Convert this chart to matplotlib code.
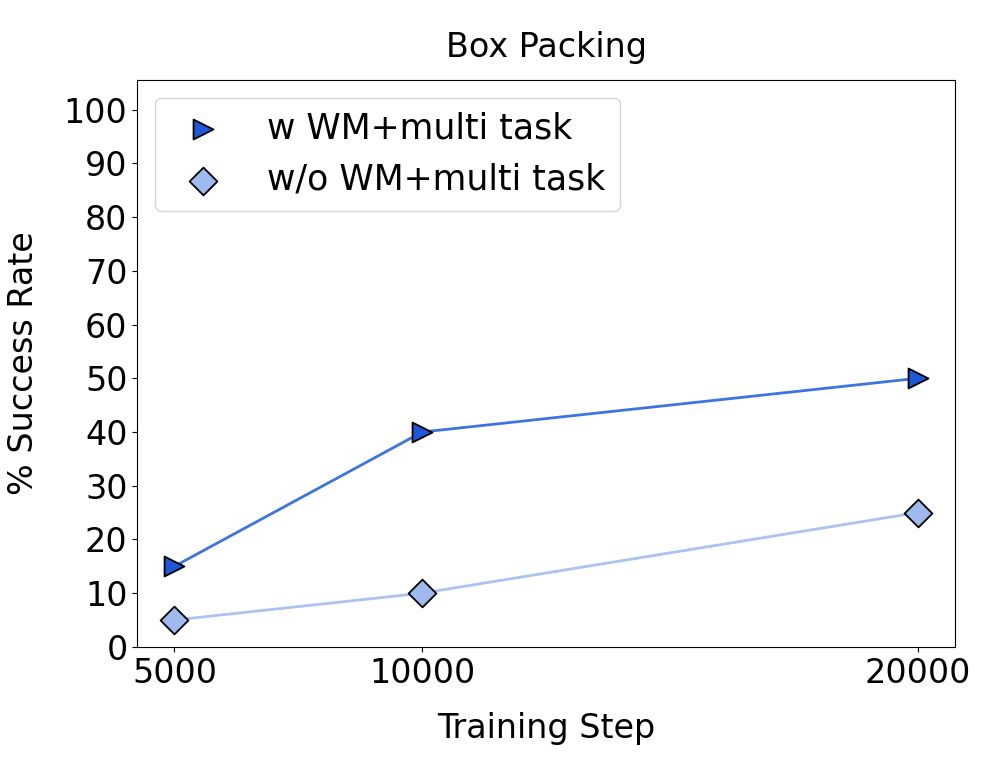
import numpy as np
import matplotlib
matplotlib.use('Agg')
import matplotlib.pyplot as plt

steps = [5000, 10000, 20000]
with_wm = [15, 40, 50]
without_wm = [5, 10, 25]

dark = '#1c58d8'
dark_line = '#3d74e0'
light = '#a0b9ee'
light_line = '#abc3f2'

fig = plt.figure(figsize=(10.02, 7.71), dpi=100)
ax = fig.add_axes([0.137, 0.161, 0.816, 0.735])

ax.plot(steps, with_wm, color=dark_line, linewidth=2, zorder=2)
ax.plot(steps, without_wm, color=light_line, linewidth=2, zorder=2)
ax.scatter(steps, with_wm, marker='>', s=205, color=dark, edgecolors='black',
           linewidths=1.3, zorder=3, label='w WM+multi task')
ax.scatter(steps, without_wm, marker='D', s=200, color=light, edgecolors='black',
           linewidths=1.3, zorder=3, label='w/o WM+multi task')

ax.set_xticks(steps)
ax.set_xticklabels([str(s) for s in steps])
ax.set_yticks(np.arange(0, 101, 10))
ax.set_ylim(0, 105.5)
ax.tick_params(labelsize=24)
ax.set_xlabel('Training Step', fontsize=24, labelpad=16)
ax.set_ylabel('% Success Rate', fontsize=24, labelpad=17)
ax.set_title('Box Packing', fontsize=24, pad=17)

ax.legend(loc='upper left', fontsize=25, handletextpad=0.85)

fig.savefig('out.png', dpi=100)
